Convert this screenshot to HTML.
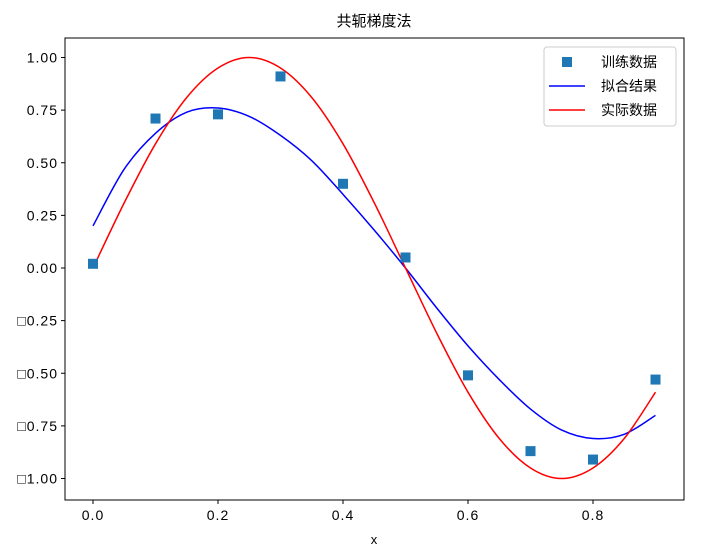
<!DOCTYPE html>
<html><head><meta charset="utf-8"><style>
body{margin:0;background:#fff;}
svg text{font-family:"Liberation Sans","WenQuanYi Zen Hei","Noto Sans CJK SC",sans-serif;fill:#000;}
</style></head><body>
<svg width="711" height="547" viewBox="0 0 711 547">
<g id="root"></g>
</svg>
<script>
const trainX=[0,0.1,0.2,0.3,0.4,0.5,0.6,0.7,0.8,0.9];
const trainY=[0.02,0.71,0.73,0.91,0.40,0.05,-0.51,-0.87,-0.91,-0.53];
const curveX=[0,0.05,0.1,0.15,0.2,0.25,0.3,0.35,0.4,0.45,0.5,0.55,0.6,0.65,0.7,0.75,0.8,0.85,0.9];
const fitY=[0.20,0.47,0.64,0.74,0.76,0.72,0.63,0.51,0.35,0.18,0.0,-0.19,-0.37,-0.53,-0.67,-0.77,-0.81,-0.79,-0.70];
const realY=[0,0.31,0.59,0.81,0.95,1.0,0.95,0.81,0.59,0.31,0,-0.31,-0.59,-0.81,-0.95,-1.0,-0.95,-0.81,-0.59];
const xTicks=[0,0.2,0.4,0.6,0.8];
const xTickLabels=["0.0","0.2","0.4","0.6","0.8"];
const yTicks=[1,0.75,0.5,0.25,0,-0.25,-0.5,-0.75,-1];
const yTickLabels=["1.00","0.75","0.50","0.25","0.00","□0.25","□0.50","□0.75","□1.00"];
const NS="http://www.w3.org/2000/svg";
const root=document.getElementById('root');
const L=65,R=684,T=38,B=500;
const sx=v=>93+v*625;
const sy=v=>268-v*210.5;
function mk(tag,attrs,parent){const e=document.createElementNS(NS,tag);for(const k in attrs)e.setAttribute(k,attrs[k]);(parent||root).appendChild(e);return e;}
function smooth(xs,ys){let p=xs.map((x,i)=>[sx(x),sy(ys[i])]);let d=`M${p[0][0]},${p[0][1]}`;
for(let i=0;i<p.length-1;i++){const p0=p[i-1]||p[i],p1=p[i],p2=p[i+1],p3=p[i+2]||p2;
d+=` C${p1[0]+(p2[0]-p0[0])/6},${p1[1]+(p2[1]-p0[1])/6} ${p2[0]-(p3[0]-p1[0])/6},${p2[1]-(p3[1]-p1[1])/6} ${p2[0]},${p2[1]}`;}return d;}
let e;
e=mk('text',{x:374,y:26,'text-anchor':'middle','font-size':15});e.textContent='共轭梯度法';


xTicks.forEach((v,i)=>{
 e=mk('line',{x1:sx(v),x2:sx(v),y1:B,y2:B+4,stroke:'#000'});
 
 
 e=mk('text',{x:sx(v),y:B+20,'text-anchor':'middle','font-size':14,'letter-spacing':1});e.textContent=xTickLabels[i];
 
 
});
yTicks.forEach((v,i)=>{
 e=mk('line',{x1:L-4,x2:L,y1:sy(v),y2:sy(v),stroke:'#000'});
 
 
 e=mk('text',{x:L-7,y:sy(v)+5,'text-anchor':'end','font-size':14,'letter-spacing':1});e.textContent=yTickLabels[i];
 
 
});
e=mk('text',{x:374,y:544,'text-anchor':'middle','font-size':13});e.textContent='x';


e=mk('path',{d:smooth(curveX,fitY),fill:'none',stroke:'#0000ff','stroke-width':1.5});


e=mk('path',{d:smooth(curveX,realY),fill:'none',stroke:'#ff0000','stroke-width':1.5});


trainX.forEach((x,i)=>{
 e=mk('rect',{x:sx(x)-5,y:sy(trainY[i])-5,width:10,height:10,fill:'#1f77b4'});
 
 
});
e=mk('rect',{x:L,y:T,width:R-L,height:B-T,fill:'none',stroke:'#000'});


const lg=mk('g',{});


mk('rect',{x:544,y:47,width:132,height:79,rx:3,fill:'#fff','fill-opacity':0.85,stroke:'#ccc'},lg);
mk('rect',{x:562,y:57,width:10,height:10,fill:'#1f77b4'},lg);
mk('line',{x1:549,x2:585,y1:86,y2:86,stroke:'#0000ff','stroke-width':1.5},lg);
mk('line',{x1:549,x2:585,y1:110,y2:110,stroke:'#ff0000','stroke-width':1.5},lg);
[['训练数据',67],['拟合结果',91],['实际数据',115]].forEach(([t,y])=>{
 const tx=mk('text',{x:601,y:y,'font-size':14},lg);tx.textContent=t;
 
 
});
</script>
</body></html>
